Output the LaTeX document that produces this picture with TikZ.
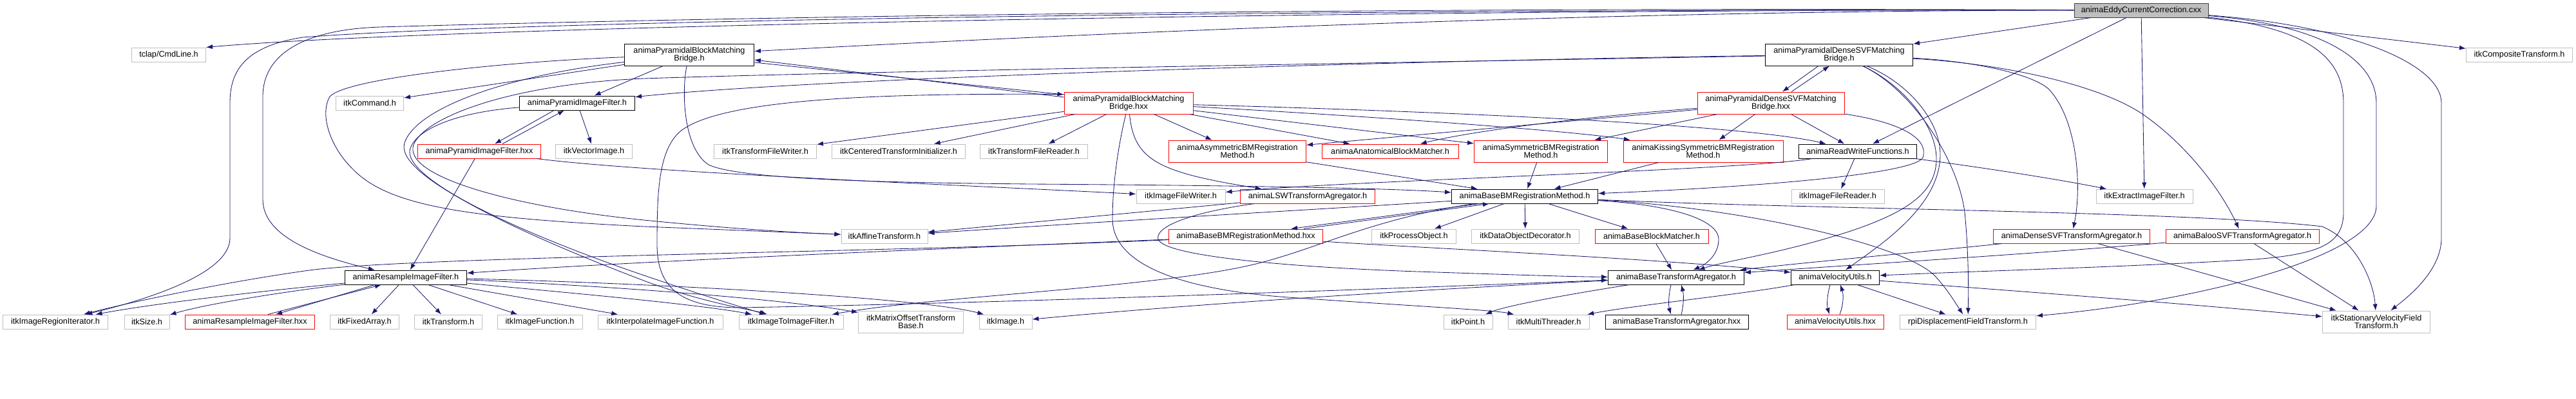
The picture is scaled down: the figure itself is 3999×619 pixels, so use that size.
\documentclass[tikz,border=0pt]{standalone}
\usepackage{fontspec}
\setmainfont{Liberation Sans}
\usetikzlibrary{arrows.meta,calc}
\definecolor{edgeblue}{HTML}{191970}
\definecolor{greyline}{HTML}{BFBFBF}
\definecolor{redline}{HTML}{FF0000}
\definecolor{mainfill}{HTML}{BFBFBF}
\definecolor{mainline}{HTML}{404040}
\begin{document}
\begin{tikzpicture}[
  x=0.025cm, y=-0.025cm,
  file/.style={draw, fill=white, line width=0.7pt, inner xsep=1pt, inner ysep=1pt, minimum height=0.55cm, align=center, font=\fontsize{9}{8.6}\selectfont},
  extfile/.style={file, draw=greyline},
  docfile/.style={file, draw=black},
  truncfile/.style={file, draw=redline},
  rootfile/.style={file, draw=mainline, fill=mainfill},
  tall/.style={minimum height=0.85cm},
  wd/.style={minimum width=#1*0.025cm},
  dep/.style={draw=edgeblue, line width=0.6pt, -{Latex[length=2.5mm,width=1.8mm]}}
]
\useasboundingbox (0,0) rectangle (3999,619);

% files
\node[rootfile, wd=208] (main) at (3324,16) {animaEddyCurrentCorrection.cxx};

\node[extfile, wd=115] (tclap) at (262,85) {tclap/CmdLine.h};
\node[docfile, tall, wd=201] (pbmbh) at (1070,85) {animaPyramidalBlockMatching\\Bridge.h};
\node[docfile, tall, wd=229] (pdsvfh) at (2855,85) {animaPyramidalDenseSVFMatching\\Bridge.h};
\node[extfile, wd=165] (comp) at (3911,85) {itkCompositeTransform.h};

\node[extfile, wd=105] (cmd) at (574,160) {itkCommand.h};
\node[docfile, wd=179] (pyrh) at (896,160) {animaPyramidImageFilter.h};
\node[truncfile, tall, wd=200] (pbmbx) at (1752,160) {animaPyramidalBlockMatching\\Bridge.hxx};
\node[truncfile, tall, wd=228] (pdsvfx) at (2749,160) {animaPyramidalDenseSVFMatching\\Bridge.hxx};

\node[truncfile, wd=191] (pyrx) at (744,235) {animaPyramidImageFilter.hxx};
\node[extfile, wd=119] (vecimg) at (922,235) {itkVectorImage.h};
\node[extfile, wd=159] (tfw) at (1188,235) {itkTransformFileWriter.h};
\node[extfile, wd=207] (cti) at (1395,235) {itkCenteredTransformInitializer.h};
\node[extfile, wd=167] (tfr) at (1605,235) {itkTransformFileReader.h};
\node[truncfile, tall, wd=213] (asym) at (1921,235) {animaAsymmetricBMRegistration\\Method.h};
\node[truncfile, wd=212] (anat) at (2158,235) {animaAnatomicalBlockMatcher.h};
\node[truncfile, tall, wd=207] (sym) at (2392,235) {animaSymmetricBMRegistration\\Method.h};
\node[truncfile, tall, wd=248] (kiss) at (2644,235) {animaKissingSymmetricBMRegistration\\Method.h};
\node[docfile, wd=183] (rwf) at (2884,235) {animaReadWriteFunctions.h};

\node[extfile, wd=138] (ifw) at (1833,305) {itkImageFileWriter.h};
\node[truncfile, wd=209] (lsw) at (2030,305) {animaLSWTransformAgregator.h};
\node[docfile, wd=227] (bbmh) at (2367,305) {animaBaseBMRegistrationMethod.h};
\node[extfile, wd=144] (ifr) at (2853,305) {itkImageFileReader.h};
\node[extfile, wd=150] (extract) at (3329,305) {itkExtractImageFilter.h};

\node[extfile, wd=134] (affine) at (1373,367) {itkAffineTransform.h};
\node[truncfile, wd=239] (bbmx) at (1934,367) {animaBaseBMRegistrationMethod.hxx};
\node[extfile, wd=131] (procobj) at (2195,367) {itkProcessObject.h};
\node[extfile, wd=167] (dod) at (2368,367) {itkDataObjectDecorator.h};
\node[truncfile, wd=176] (bbm) at (2564,367) {animaBaseBlockMatcher.h};
\node[truncfile, wd=243] (dsvf) at (3216,367) {animaDenseSVFTransformAgregator.h};
\node[truncfile, wd=238] (baloo) at (3481,367) {animaBalooSVFTransformAgregator.h};

\node[docfile, wd=189] (resh) at (630,431) {animaResampleImageFilter.h};
\node[docfile, wd=211] (btah) at (2602,431) {animaBaseTransformAgregator.h};
\node[docfile, wd=137] (velh) at (2849,431) {animaVelocityUtils.h};

\node[extfile, wd=163] (iri) at (86,500) {itkImageRegionIterator.h};
\node[extfile, wd=70] (size) at (228,500) {itkSize.h};
\node[truncfile, wd=201] (resx) at (388,500) {animaResampleImageFilter.hxx};
\node[extfile, wd=107] (fixarr) at (566,500) {itkFixedArray.h};
\node[extfile, wd=105] (trans) at (696,500) {itkTransform.h};
\node[extfile, wd=132] (imgfunc) at (838,500) {itkImageFunction.h};
\node[extfile, wd=194] (interp) at (1025,500) {itkInterpolateImageFunction.h};
\node[extfile, wd=162] (i2i) at (1228,500) {itkImageToImageFilter.h};
\node[extfile, tall, wd=163] (mot) at (1414,500) {itkMatrixOffsetTransform\\Base.h};
\node[extfile, wd=82] (image) at (1561,500) {itkImage.h};
\node[extfile, wd=76] (point) at (2279,500) {itkPoint.h};
\node[extfile, wd=126] (mt) at (2404,500) {itkMultiThreader.h};
\node[docfile, wd=222] (btax) at (2603,500) {animaBaseTransformAgregator.hxx};
\node[truncfile, wd=150] (velx) at (2849,500) {animaVelocityUtils.hxx};
\node[extfile, wd=211] (rpi) at (3055,500) {rpiDisplacementFieldTransform.h};
\node[extfile, tall, wd=167] (svf) at (3689,500) {itkStationaryVelocityField\\Transform.h};

% includes of the root file
\draw[dep] (main) .. controls (2200,14) and (700,40) .. (tclap.north east);
\draw[dep] (main) .. controls (2000,14) and (800,32) .. (470,58) .. controls (380,72) and (357,110) .. (357,160) -- (357,370) .. controls (357,425) and (230,465) .. (iri);
\draw[dep] (main) .. controls (2000,10) and (1000,30) .. (590,42) .. controls (470,46) and (408,85) .. (408,150) -- (408,310) .. controls (408,370) and (500,400) .. (resh);
\draw[dep] (main) .. controls (2400,16) and (1500,62) .. (pbmbh);
\draw[dep] (main) -- (pdsvfh);
\draw[dep] (main) -- (comp);
\draw[dep] (main) -- (extract);
\draw[dep] (main) -- (rwf);
\draw[dep] (main) .. controls (3600,45) and (3638,100) .. (3638,160) -- (3638,330) .. controls (3638,380) and (3600,395) .. (3500,403) .. controls (3300,415) and (3100,420) .. (velh);
\draw[dep] (main) .. controls (3620,40) and (3689,100) .. (3689,160) -- (3689,320) .. controls (3689,400) and (3400,470) .. (rpi);
\draw[dep] (main) .. controls (3650,40) and (3790,100) .. (3790,160) -- (3790,370) .. controls (3790,420) and (3740,460) .. (svf);

% block matching bridge
\draw[dep] (pbmbh) -- (cmd);
\draw[dep] (pbmbh) -- (pyrh);
\draw[dep] ($(pbmbh.east)+(0,12)$) -- ($(pbmbx.west)+(0,-13)$);
\draw[dep] ($(pbmbx.west)+(0,-9)$) -- ($(pbmbh.east)+(0,8)$);
\draw[dep] (pbmbh) .. controls (800,95) and (540,120) .. (512,150) .. controls (495,180) and (515,230) .. (545,260) .. controls (600,320) and (720,338) .. (1000,352) .. controls (1150,358) and (1250,362) .. (affine);
\draw[dep] (pbmbh) .. controls (1058,140) and (1060,230) .. (1100,256) .. controls (1150,280) and (1400,284) .. (1600,286) .. controls (1900,288) and (2150,292) .. ($(bbmh.west)+(0,-6)$);
\draw[dep] (pbmbh) .. controls (780,118) and (645,170) .. (628,222) .. controls (612,272) and (800,360) .. (1000,428) .. controls (1100,462) and (1160,480) .. (i2i);

\draw[dep] (pbmbx) -- (tfw);
\draw[dep] (pbmbx) -- (cti);
\draw[dep] (pbmbx) -- (tfr);
\draw[dep] (pbmbx) -- (asym);
\draw[dep] (pbmbx) -- (anat);
\draw[dep] (pbmbx) -- (sym);
\draw[dep] (pbmbx) .. controls (2200,185) and (2450,205) .. (kiss);
\draw[dep] (pbmbx) .. controls (2200,172) and (2700,192) .. (rwf);
\draw[dep] (pbmbx) .. controls (1760,250) and (1800,268) .. (lsw);
\draw[dep] (pbmbx) .. controls (1735,230) and (1727,290) .. (1727,340) .. controls (1727,420) and (1860,452) .. (2000,462) .. controls (2200,476) and (2320,482) .. (mt);
\draw[dep] ($(pbmbx.north west)+(0,4)$) .. controls (1400,145) and (1120,150) .. (1055,205) .. controls (1022,235) and (1020,300) .. (1020,380) .. controls (1020,450) and (1060,478) .. (1150,478) .. controls (1600,470) and (2250,445) .. (btah);

% dense SVF bridge
\draw[dep] ($(pdsvfh.south)+(-32,0)$) -- ($(pdsvfx.north)+(18,0)$);
\draw[dep] ($(pdsvfx.north)+(32,0)$) -- ($(pdsvfh.south)+(-15,0)$);
\draw[dep] (pdsvfh) .. controls (2300,92) and (1300,118) .. (pyrh);
\draw[dep] (pdsvfh) .. controls (2000,100) and (1300,112) .. (1000,122) .. controls (800,130) and (660,180) .. (642,225) .. controls (625,275) and (800,322) .. (1000,342) .. controls (1150,357) and (1250,362) .. (affine);
\draw[dep] (pdsvfh) .. controls (2960,135) and (3008,200) .. (3006,250) .. controls (3004,300) and (2960,330) .. (2870,360) .. controls (2760,395) and (2680,405) .. (btah);
\draw[dep] (pdsvfh) .. controls (2965,130) and (3012,190) .. (3012,240) .. controls (3012,320) and (2920,380) .. (velh);
\draw[dep] (pdsvfh) .. controls (2970,140) and (3040,250) .. (3050,330) .. controls (3056,390) and (3056,450) .. (rpi);
\draw[dep] (pdsvfh) .. controls (3050,94) and (3150,112) .. (3180,138) .. controls (3225,185) and (3232,290) .. (dsvf);
\draw[dep] (pdsvfh) .. controls (3100,98) and (3260,130) .. (3330,180) .. controls (3400,230) and (3450,300) .. (baloo);

\draw[dep] (pdsvfx) -- (asym);
\draw[dep] (pdsvfx) .. controls (2500,178) and (2300,200) .. (anat);
\draw[dep] (pdsvfx) -- (sym);
\draw[dep] (pdsvfx) -- (kiss);
\draw[dep] (pdsvfx) -- (rwf);
\draw[dep] (pdsvfx) .. controls (2950,190) and (2995,215) .. (2985,245) .. controls (2970,272) and (2700,292) .. (bbmh);

% pyramid filter
\draw[dep] ($(pyrh.south)+(-36,0)$) -- ($(pyrx.north)+(24,0)$);
\draw[dep] ($(pyrx.north)+(36,0)$) -- ($(pyrh.south)+(-20,0)$);
\draw[dep] (pyrh) -- (vecimg);
\draw[dep] (pyrh) .. controls (700,175) and (640,205) .. (636,235) .. controls (632,285) and (850,380) .. (1010,440) .. controls (1100,472) and (1170,482) .. (i2i);
\draw[dep] (pyrx) -- (resh);
\draw[dep] (pyrx) .. controls (1000,268) and (1500,288) .. (ifw);

% registration methods
\draw[dep] (rwf) -- (ifr);
\draw[dep] (rwf) .. controls (2700,265) and (2100,280) .. (ifw);
\draw[dep] (rwf) .. controls (3000,250) and (3150,270) .. (extract);
\draw[dep] (asym) -- (bbmh);
\draw[dep] (sym) -- (bbmh);
\draw[dep] (kiss) -- (bbmh);
\draw[dep] (lsw) -- (affine);
\draw[dep] (lsw) .. controls (1850,330) and (1792,352) .. (1798,372) .. controls (1808,398) and (2000,415) .. (2200,422) .. controls (2350,427) and (2440,430) .. (btah);

\draw[dep] (bbmh) -- (procobj);
\draw[dep] (bbmh) -- (dod);
\draw[dep] (bbmh) -- (bbm);
\draw[dep] ($(bbmh.south)+(-70,0)$) -- ($(bbmx.north)+(70,0)$);
\draw[dep] ($(bbmx.north)+(90,0)$) -- ($(bbmh.south)+(-55,0)$);
\draw[dep] (bbmh) .. controls (2590,318) and (2668,340) .. (2668,372) .. controls (2668,395) and (2650,410) .. (btah);
\draw[dep] (bbmh) .. controls (2700,322) and (2960,380) .. (3005,430) .. controls (3025,452) and (3035,470) .. (rpi);
\draw[dep] (bbmh) .. controls (2800,325) and (3400,328) .. (3605,352) .. controls (3660,375) and (3685,440) .. (svf);
\draw[dep] (bbmh) .. controls (2100,322) and (1700,345) .. (affine);
\draw[dep] (bbmh) .. controls (2130,340) and (2050,385) .. (1950,410) .. controls (1800,447) and (1450,460) .. (i2i);

\draw[dep] (bbmx) .. controls (1500,385) and (1000,405) .. (resh);
\draw[dep] (bbmx) .. controls (1400,392) and (650,398) .. (480,420) .. controls (350,438) and (200,470) .. (iri);
\draw[dep] (bbmx) .. controls (2200,385) and (2600,403) .. (velh);
\draw[dep] (bbm) -- (btah);

% transform agregators
\draw[dep] (dsvf) .. controls (3000,390) and (2800,408) .. (btah);
\draw[dep] (dsvf) -- (svf);
\draw[dep] (baloo) .. controls (3150,395) and (2900,410) .. (btah);
\draw[dep] (baloo) -- (svf);

\draw[dep] ($(velh.south)+(-8,0)$) .. controls (2836,460) and (2836,475) .. ($(velx.north)+(-9,0)$);
\draw[dep] ($(velx.north)+(7,0)$) .. controls (2862,473) and (2862,458) .. ($(velh.south)+(8,0)$);
\draw[dep] (velh) .. controls (3100,450) and (3400,472) .. (svf);
\draw[dep] (velh) -- (rpi);
\draw[dep] (velh) .. controls (2700,458) and (2540,474) .. (mt);

\draw[dep] ($(btah.south)+(-8,0)$) .. controls (2590,460) and (2590,475) .. ($(btax.north)+(-9,0)$);
\draw[dep] ($(btax.north)+(7,0)$) .. controls (2614,473) and (2614,458) .. ($(btah.south)+(8,0)$);
\draw[dep] (btah) .. controls (2450,455) and (2340,474) .. (point);
\draw[dep] (btah) .. controls (2300,445) and (1900,468) .. (image);

% resample filter
\draw[dep] ($(resx.north)+(28,0)$) -- ($(resh.south)+(-38,0)$);
\draw[dep] ($(resh.south)+(-48,0)$) -- ($(resx.north)+(40,0)$);
\draw[dep] (resh) .. controls (450,448) and (260,468) .. (iri);
\draw[dep] (resh) .. controls (450,452) and (320,472) .. (size);
\draw[dep] (resh) -- (fixarr);
\draw[dep] (resh) -- (trans);
\draw[dep] (resh) -- (imgfunc);
\draw[dep] (resh) -- (interp);
\draw[dep] (resh) .. controls (850,452) and (1080,472) .. (i2i);
\draw[dep] (resh) .. controls (900,442) and (1200,462) .. (mot);
\draw[dep] (resh) .. controls (950,438) and (1420,460) .. ($(image.north west)+(8,0)$);
\end{tikzpicture}
\end{document}
